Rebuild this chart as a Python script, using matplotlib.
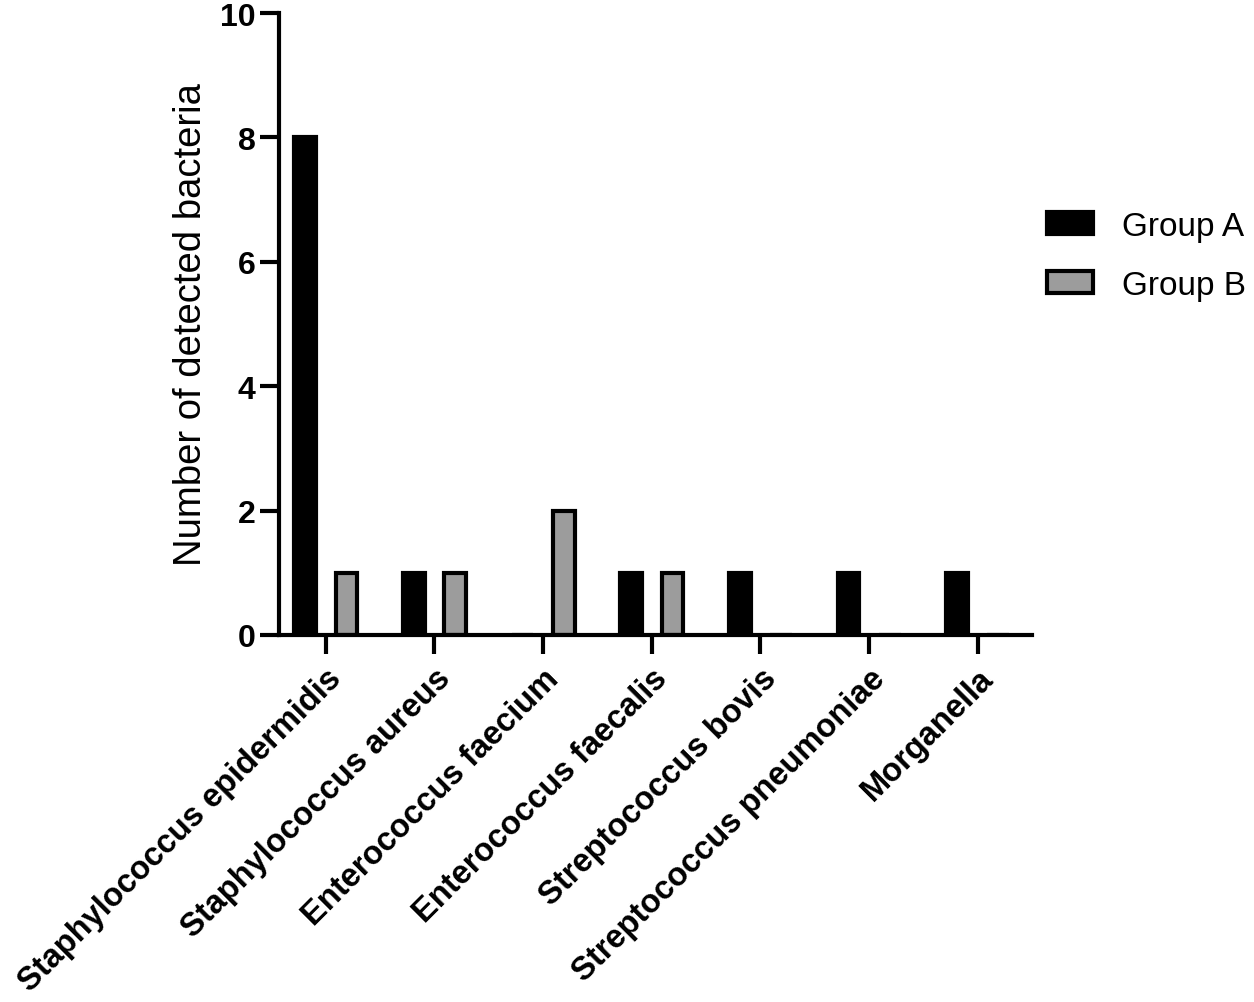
import numpy as np
import matplotlib
matplotlib.use('Agg')
import matplotlib.pyplot as plt

plt.rcParams['font.family'] = ['Liberation Sans', 'DejaVu Sans']

categories = ['Staphylococcus epidermidis', 'Staphylococcus aureus', 'Enterococcus faecium',
              'Enterococcus faecalis', 'Streptococcus bovis', 'Streptococcus pneumoniae', 'Morganella']
group_a = [8, 1, 0, 1, 1, 1, 1]
group_b = [1, 1, 2, 1, 0, 0, 0]
y_ticks = [0, 2, 4, 6, 8, 10]

fig = plt.figure(figsize=(12.54, 10.03), dpi=100)
ax = fig.add_axes([0.2225, 0.366, 0.6005, 0.620])

x = np.arange(len(categories))
w = 0.2
off = 0.19
ax.bar(x - off, group_a, w, color='black', edgecolor='black', linewidth=3,
       label='Group A')
ax.bar(x + off, group_b, w, color='#9c9c9c', edgecolor='black', linewidth=3,
       label='Group B')

ax.set_xlim(-0.43, 6.5)
ax.set_ylim(0, 10)
ax.set_yticks(y_ticks)
ax.set_xticks(x)
ax.set_xticklabels(categories, rotation=45, ha='right', rotation_mode='anchor',
                   fontsize=23.5, fontweight='bold')
for lbl in ax.get_yticklabels():
    lbl.set_fontsize(23)
    lbl.set_fontweight('bold')

for s in ['top', 'right']:
    ax.spines[s].set_visible(False)
for s in ['left', 'bottom']:
    ax.spines[s].set_linewidth(3)
ax.tick_params(axis='both', length=14, width=3, direction='out', pad=6)
ax.tick_params(axis='y', pad=3)

ax.set_ylabel('Number of detected bacteria', fontsize=27.5, labelpad=8)

# legend sits outside the axes, to the right
fig.legend(loc='upper left', bbox_to_anchor=(0.835, 0.789), frameon=False, fontsize=24,
           borderpad=0, borderaxespad=0, handlelength=1.38, handleheight=0.63,
           handletextpad=0.86, labelspacing=0.85)

fig.savefig('out.png', dpi=100)
